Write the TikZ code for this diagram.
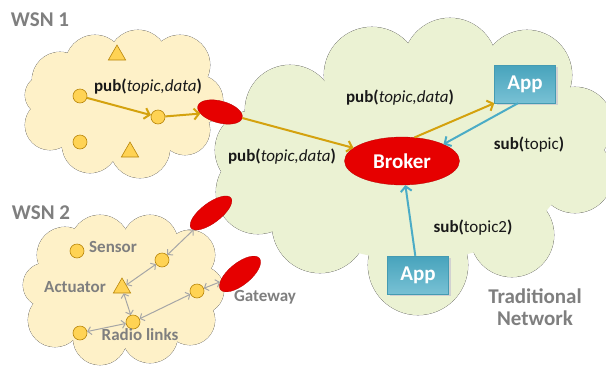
\documentclass[tikz,border=0pt]{standalone}
\usepackage{fontspec}
\setmainfont{Carlito}
\usetikzlibrary{arrows.meta,shapes.geometric}
\definecolor{wsnfill}{HTML}{FEF1C8}
\definecolor{netfill}{HTML}{EBF2D3}
\definecolor{cloudline}{HTML}{555555}
\definecolor{goldarrow}{HTML}{D4A20E}
\definecolor{dotfill}{HTML}{FFD354}
\definecolor{dotline}{HTML}{B8860B}
\definecolor{gwred}{HTML}{E60000}
\definecolor{teal}{HTML}{4BACC6}
\definecolor{labgray}{HTML}{7F7F7F}
\definecolor{linkgray}{HTML}{A6A6A6}
\newcommand\mycloud[3]{%
  \foreach \cx/\cy/\cr in {#2} \draw[draw=cloudline, line width=0.6pt, fill=#1] (\cx,\cy) circle[radius=\cr pt];
  \foreach \cx/\cy/\cr in {#2} \fill[#1] (\cx,\cy) circle[radius=\cr pt];
  \fill[#1] #3;
}
\tikzset{
  dot/.style={circle, draw=dotline, fill=dotfill, line width=0.6pt, minimum size=14pt, inner sep=0pt},
  tri/.style={regular polygon, regular polygon sides=3, draw=dotline, fill=dotfill, line width=0.6pt, minimum size=20pt, inner sep=0pt},
  gw/.style={ellipse, fill=gwred, draw=gwred!80!black, line width=0.3pt, inner sep=0pt},
  appbox/.style={rectangle, top color=teal!95!black, bottom color=teal!75!white, draw=teal!90!black, line width=0.4pt, minimum width=61pt, minimum height=38pt, text=white, font=\fontsize{21}{24}\selectfont\bfseries},
  appshadow/.style={fill=black!18, minimum width=61pt, minimum height=38pt, inner sep=0pt},
  goldarr/.style={draw=goldarrow, line width=2pt, -{Straight Barb[length=5pt,width=11pt]}},
  tealarr/.style={draw=teal, line width=2pt, -{Straight Barb[length=5pt,width=11pt]}},
  link/.style={draw=linkgray, line width=1pt, {Straight Barb[length=3.5pt,width=8pt]}-{Straight Barb[length=3.5pt,width=8pt]}},
  msg/.style={font=\fontsize{17}{20}\selectfont, text=black!90, inner sep=0pt},
  glab/.style={font=\fontsize{17}{20}\selectfont\bfseries, text=labgray, inner sep=0pt},
  title/.style={font=\fontsize{21}{24}\selectfont\bfseries, text=labgray, inner sep=0pt, align=center}
}
\begin{document}
\begin{tikzpicture}[x=1pt,y=-1pt]
\useasboundingbox (0,0) rectangle (606,365);
\fill[white] (0,0) rectangle (606,365);
% Traditional network cloud
\mycloud{netfill}{290/110/45, 372/75/48, 450/65/47, 527/75/45, 575/125/38, 575/175/38, 512/235/42, 418/265/50, 320/225/48, 258/192/42, 255/150/40}{(415,165) ellipse[x radius=150pt, y radius=95pt]}
% WSN 1 cloud
\mycloud{wsnfill}{60/80/28, 95/65/30, 138/60/30, 180/65/30, 198/100/25, 185/130/25, 140/148/30, 90/145/28, 50/125/25, 45/95/20}{(125,105) ellipse[x radius=75pt, y radius=45pt]}
% WSN 2 cloud
\mycloud{wsnfill}{65/255/28, 100/245/30, 150/243/28, 190/255/25, 200/290/24, 190/320/25, 150/335/28, 100/338/27, 55/320/27, 45/285/22}{(125,290) ellipse[x radius=75pt, y radius=45pt]}

% WSN 1 nodes
\node[tri] (t1) at (117,55) {};
\node[tri] (t2) at (130,152) {};
\node[dot] (a1) at (80,96) {};
\node[dot] (b1) at (158,117) {};
\node[dot] (c1) at (80,142) {};
% WSN 2 nodes
\node[dot] (s2) at (77,251) {};
\node[dot] (m2) at (162,260) {};
\node[tri] (act) at (122,288) {};
\node[dot] (r2) at (197,291) {};
\node[dot] (rl) at (133,322) {};
\node[dot] (bl) at (80,333) {};

% gateways
\node[gw, minimum width=46pt, minimum height=22pt, rotate=-15] (g1) at (220,112) {};
\node[gw, minimum width=50pt, minimum height=20pt, rotate=37] (g2) at (211,213) {};
\node[gw, minimum width=50pt, minimum height=22pt, rotate=39] (g3) at (240,274) {};

% broker and apps
\node[ellipse, fill=gwred, draw=gwred!80!black, line width=0.3pt, minimum width=115pt, minimum height=48pt, inner sep=0pt, text=white, font=\fontsize{21}{24}\selectfont\bfseries] (broker) at (402,161) {Broker};
\node[appshadow] (sh1) at (527,86) {};
\node[appshadow] (sh2) at (420,277) {};
\node[appbox] (app1) at (525,84) {App};
\node[appbox] (app2) at (418,275) {App};

% publish / subscribe arrows
\draw[goldarr] (a1) -- (b1);
\draw[goldarr] (b1) -- (g1);
\draw[goldarr] (g1) -- (broker);
\draw[goldarr] (broker.62) -- (app1.south west);
\draw[tealarr] (app1.-110) -- (broker.22);
\draw[tealarr] (app2) -- (broker);

% radio links
\draw[link] (g2) -- (m2);
\draw[link] (m2) -- (act);
\draw[link] (act) -- (rl);
\draw[link] (rl) -- (r2);
\draw[link] (r2) -- (g3);
\draw[link] (bl) -- (rl);

% labels
\node[msg] (l1) at (148,87) {\textbf{pub(}\textit{topic,data}\textbf{)}};
\node[msg] (l2) at (282,157) {\textbf{pub(}\textit{topic,data}\textbf{)}};
\node[msg] (l3) at (400,98) {\textbf{pub(}\textit{topic,data}\textbf{)}};
\node[msg] (l4) at (529,145) {\textbf{sub(}topic\textbf{)}};
\node[msg] (l5) at (473,228) {\textbf{sub(}topic2\textbf{)}};
\node[title] (w1) at (40,20) {WSN 1};
\node[title] (w2) at (41,213) {WSN 2};
\node[title] (tn) at (535,307) {Traditional\\[-2pt]Network};
\node[glab] (gwl) at (265,297) {Gateway};
\node[glab] (sen) at (113,247) {Sensor};
\node[glab] (actl) at (75,287) {Actuator};
\node[glab] (rad) at (140,335) {Radio links};
\end{tikzpicture}
\end{document}
